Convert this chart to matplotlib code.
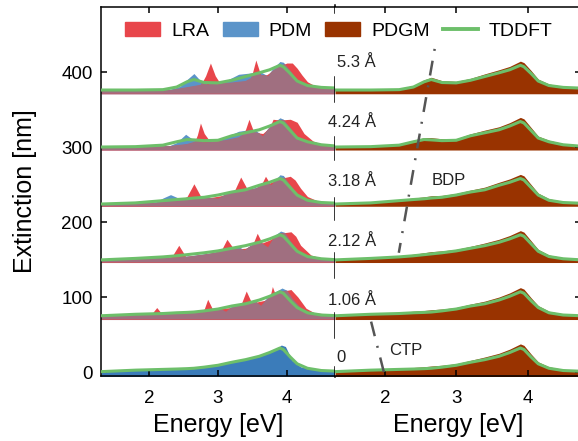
import numpy as np
import matplotlib
matplotlib.use('Agg')
import matplotlib.pyplot as plt
from matplotlib.patches import Patch
from matplotlib.lines import Line2D

plt.rcParams['font.family'] = ['Liberation Sans', 'DejaVu Sans']

# ---- data (rows from bottom: 0, 1.06, 2.12, 3.18, 4.24, 5.3 A) ----
row_labels = ['0', '1.06 Å', '2.12 Å', '3.18 Å', '4.24 Å', '5.3 Å']
row_bottom = [-6, 70, 146, 221, 296, 371]

tddft_e = [1.3, 1.8, 2.2, 2.4, 2.55, 2.65, 2.8, 3.0, 3.2, 3.4, 3.6, 3.75,
           3.9, 3.95, 4.05, 4.15, 4.3, 4.5, 4.76]
tddft = [
    [0.5, 2.5, 3.5, 4, 4.5, 5, 6.5, 9, 13, 16.5, 21, 26, 32, 30, 20, 11, 5, 2, 1],
    [75, 77, 78, 79, 79.5, 80, 81.5, 84, 88, 91, 96, 101, 107, 105, 95, 86, 79, 76, 75],
    [149.5, 151.5, 153.5, 155, 156.5, 157.5, 159, 161.5, 165, 168.5, 173, 177.5,
     183, 181, 171, 161, 154, 151, 149.5],
    [224, 225.5, 228.5, 230, 231, 232, 233, 236, 240, 243, 249, 253, 258, 256,
     246, 236, 229, 226, 225],
    [300, 300.5, 302.5, 307, 310, 309.5, 308.5, 309, 315, 319, 323, 328, 334, 332,
     322, 312, 307, 303, 301],
    [376, 376, 376.5, 380, 387, 390, 386, 385.5, 389, 394, 399, 403, 409, 407,
     398, 388, 382, 379.5, 378.5],
]
pdgm = [
    [2, 4, 5, 6, 7, 8, 9, 11, 15.5, 20, 25, 30.5, 37.5, 35.5, 24, 13.5, 7, 3.5, 2.5],
    [76.5, 78.5, 79.5, 81, 82, 83, 84, 86, 90.5, 94.5, 100, 105.5, 112.5, 110.5,
     99, 88.5, 81, 77.5, 76.5],
    [151, 153, 155, 157, 159, 160.5, 161.5, 163.5, 167.5, 172, 177, 182, 188.5,
     186.5, 175, 163.5, 156, 152.5, 151],
    [225.5, 227, 230, 232, 233.5, 235, 235.5, 238, 242.5, 246.5, 253, 257.5,
     263.5, 261.5, 250, 238.5, 231, 227.5, 226.5],
    [301.5, 302, 304, 309, 312.5, 312.5, 311, 311, 317.5, 322.5, 327, 332.5,
     339.5, 337.5, 326, 314.5, 309, 304.5, 302.5],
    [377.5, 377.5, 378, 382, 389.5, 393, 388.5, 387.5, 391.5, 397.5, 403, 407.5,
     414.5, 412.5, 402, 390.5, 384, 381, 380],
]

pdm_e = [
    [1.3, 1.8, 2.0, 2.5, 2.75, 3.0, 3.25, 3.5, 3.65, 3.8, 3.92, 3.98, 4.08, 4.2, 4.35, 4.76],
    [1.3, 2.0, 2.5, 2.9, 3.05, 3.11, 3.2, 3.45, 3.55, 3.62, 3.72, 3.85, 3.93, 4.0,
     4.08, 4.2, 4.35, 4.5, 4.76],
    [1.3, 1.9, 2.11, 2.3, 2.6, 2.9, 3.15, 3.3, 3.38, 3.5, 3.62, 3.72, 3.82, 3.91,
     3.97, 4.05, 4.15, 4.3, 4.5, 4.76],
    [1.3, 2.1, 2.2, 2.31, 2.45, 2.6, 2.8, 3.0, 3.15, 3.35, 3.55, 3.7, 3.77, 3.9,
     3.95, 4.05, 4.15, 4.3, 4.5, 4.76],
    [1.3, 2.3, 2.4, 2.53, 2.65, 2.8, 3.0, 3.15, 3.3, 3.45, 3.55, 3.645, 3.75, 3.9,
     3.95, 4.05, 4.15, 4.3, 4.5, 4.76],
    [1.3, 2.3, 2.45, 2.55, 2.65, 2.75, 2.85, 3.0, 3.15, 3.3, 3.5, 3.62, 3.72, 3.8,
     3.9, 3.95, 4.05, 4.15, 4.3, 4.5, 4.76],
]
pdm = [
    [1, 3.5, 4.5, 5, 6.5, 10, 15, 19, 23, 28, 36, 34, 15, 7, 4, 2],
    [75, 78, 79, 83, 84, 81, 88, 93, 94, 89, 100, 108, 112, 109, 98, 86, 79, 77, 76],
    [150, 152, 155, 153, 155, 159, 164, 167, 163, 171, 173, 167, 182, 188, 186,
     175, 163, 155, 151, 150],
    [225, 227, 232, 236.5, 231, 231, 233, 232, 240, 243, 246, 253, 250, 263, 262,
     249, 238, 229, 226, 225],
    [300, 302, 306, 317, 309, 307, 308, 315, 321, 323, 322, 315, 328, 339, 337,
     326, 313, 306, 302, 301],
    [375, 377, 381, 390, 398, 388, 384, 384, 390, 397, 399, 400, 395, 405, 414,
     413, 402, 389, 381, 379, 378],
]

# LRA only for rows 1..5
lra_e = [
    None,
    [1.3, 1.95, 2.04, 2.11, 2.18, 2.75, 2.8, 2.85, 2.92, 3.2, 3.33, 3.41, 3.49,
     3.7, 3.76, 3.79, 3.83, 3.9, 4.06, 4.16, 4.28, 4.4, 4.76],
    [1.3, 2.2, 2.33, 2.43, 2.53, 2.8, 3.04, 3.13, 3.23, 3.4, 3.5, 3.57, 3.64,
     3.75, 3.9, 4.06, 4.13, 4.2, 4.35, 4.5, 4.76],
    [1.3, 2.1, 2.45, 2.55, 2.65, 2.75, 2.85, 3.1, 3.23, 3.33, 3.43, 3.55, 3.63,
     3.69, 3.75, 3.85, 3.95, 4.05, 4.12, 4.2, 4.3, 4.45, 4.76],
    [1.3, 2.3, 2.55, 2.66, 2.7, 2.745, 2.8, 2.88, 3.1, 3.3, 3.38, 3.45, 3.52,
     3.65, 3.75, 3.8, 3.9, 4.05, 4.15, 4.25, 4.38, 4.5, 4.76],
    [1.3, 2.3, 2.5, 2.75, 2.82, 2.89, 2.96, 3.03, 3.2, 3.4, 3.48, 3.55, 3.62,
     3.7, 3.8, 3.9, 4.0, 4.08, 4.15, 4.22, 4.3, 4.4, 4.5, 4.76],
]
lra = [
    None,
    [75, 77, 78, 86, 78, 80, 84, 97, 84, 86, 89, 108, 92, 96, 102, 114, 104,
     107, 110, 100, 85, 79, 76],
    [150, 152, 154, 169, 154, 157, 161, 177, 164, 165, 169, 185, 172, 176, 185,
     187, 181, 169, 156, 152, 150],
    [225, 226, 229, 234, 251, 234, 232, 236, 240, 260, 243, 245, 250, 261, 252,
     256, 259, 261, 256, 245, 234, 228, 226],
    [300, 301.5, 304, 307, 316, 332, 318, 308, 309, 313, 318, 337, 320, 318, 326,
     337, 336, 337, 333, 318, 308, 304, 301],
    [375, 376, 379, 383, 395, 412, 395, 385, 386, 388, 392, 416, 396, 396, 402,
     408, 412, 412, 405, 396, 387, 382, 380, 379],
]

# annotation guide lines in the right panel
ctp_line_e = [1.985, 1.775]
ctp_line_y = [0, 79]
bdp_line_e = [2.195, 2.70]
bdp_line_y = [159, 432]

label_y = [13, 89, 168, 248, 327, 407]

# divider segments between the two panels (data y)
seg_lo = [-6, 45, 125, 203, 283, 360, 479]
seg_hi = [7, 79, 159, 232, 313, 393, 490]

c_red = '#e8464b'
c_blue = '#5b94c9'
c_blue0 = '#3b7cba'
c_mauve = '#a06f80'
c_brown = '#993300'
c_green = '#6dbf6a'

W, H = 578, 441
fig = plt.figure(figsize=(W / 100, H / 100), dpi=100)


def px_box(x0, y0, x1, y1):
    return [x0 / W, 1 - y1 / H, (x1 - x0) / W, (y1 - y0) / H]


ax1 = fig.add_axes(px_box(101, 7, 335, 376))
ax2 = fig.add_axes(px_box(335, 7, 581, 376))

ylim = (-5.3, 486.7)

# left panel: LRA / PDM / TDDFT
for k in range(6):
    b = row_bottom[k]
    if k == 0:
        ax1.fill_between(pdm_e[k], b, pdm[k], color=c_blue0, lw=0, zorder=1)
    else:
        ax1.fill_between(pdm_e[k], b, pdm[k], color=c_blue, lw=0, zorder=1)
        red = ax1.fill_between(lra_e[k], b, lra[k], color=c_red, lw=0, zorder=1.1)
        mv = ax1.fill_between(pdm_e[k], b, pdm[k], color=c_mauve, lw=0, zorder=1.2)
        mv.set_clip_path(red.get_paths()[0], ax1.transData)
    ax1.plot(tddft_e, tddft[k], color=c_green, lw=2.2, zorder=3,
             solid_capstyle='butt')

# right panel: PDGM / TDDFT
for k in range(6):
    ax2.fill_between(tddft_e, row_bottom[k], pdgm[k], color=c_brown, lw=0, zorder=1)
    ax2.plot(tddft_e, tddft[k], color=c_green, lw=2.2, zorder=3)

ax2.plot(ctp_line_e, ctp_line_y, color='#555555', lw=1.8,
         linestyle=(0, (6, 4, 0.8, 4)), zorder=4)
ax2.plot(bdp_line_e, bdp_line_y, color='#555555', lw=1.8,
         linestyle=(2, (6, 4, 0.8, 4)), zorder=4)

for k in range(6):
    if k == 0:
        ax2.text(1.315, label_y[k], row_labels[k], ha='left', va='baseline',
                 fontsize=12, color='#222222')
    else:
        ax2.text(1.873, label_y[k], row_labels[k], ha='right', va='baseline',
                 fontsize=12, color='#222222')
ax2.text(2.657, 249, 'BDP', ha='left', va='baseline', fontsize=12, color='#222222')
ax2.text(2.055, 23, 'CTP', ha='left', va='baseline', fontsize=12, color='#222222')

for y0, y1 in zip(seg_lo, seg_hi):
    ax1.plot([1, 1], [y0, y1], color='k', lw=1.1,
             transform=ax1.get_yaxis_transform(), clip_on=False, zorder=5)

ax1.set_xlim(1.3, 4.70)
ax2.set_xlim(1.3, 4.75)
for ax in (ax1, ax2):
    ax.set_ylim(*ylim)
    ax.set_xticks([2, 3, 4])
    ax.set_yticks([0, 100, 200, 300, 400])
    for s in ax.spines.values():
        s.set_linewidth(1.1)
    ax.tick_params(direction='in', length=4, width=1.1, top=True,
                   labelsize=13.5, colors='k')
    ax.tick_params(axis='x', pad=10)
    ax.tick_params(axis='y', pad=6)

ax1.spines['right'].set_visible(False)
ax1.tick_params(right=False)
ax2.spines['left'].set_visible(False)
ax2.tick_params(left=False, labelleft=False, right=True)

fig.text(218 / W, 1 - 425 / H, 'Energy [eV]', ha='center', va='center', fontsize=18)
fig.text(458 / W, 1 - 425 / H, 'Energy [eV]', ha='center', va='center', fontsize=18)
fig.text(25 / W, 1 - 191 / H, 'Extinction [nm]', ha='center', va='center',
         rotation=90, fontsize=18)

handles = [Patch(color=c_red), Patch(color=c_blue), Patch(color=c_brown),
           Line2D([], [], color=c_green, lw=2.8)]
fig.legend(handles, ['LRA', 'PDM', 'PDGM', 'TDDFT'], ncol=4, loc='center',
           bbox_to_anchor=(339 / W, 1 - 31 / H), frameon=False, fontsize=14,
           handlelength=1.8, handletextpad=0.55, columnspacing=0.7,
           borderaxespad=0, borderpad=0)

fig.savefig('out.png', dpi=100)
